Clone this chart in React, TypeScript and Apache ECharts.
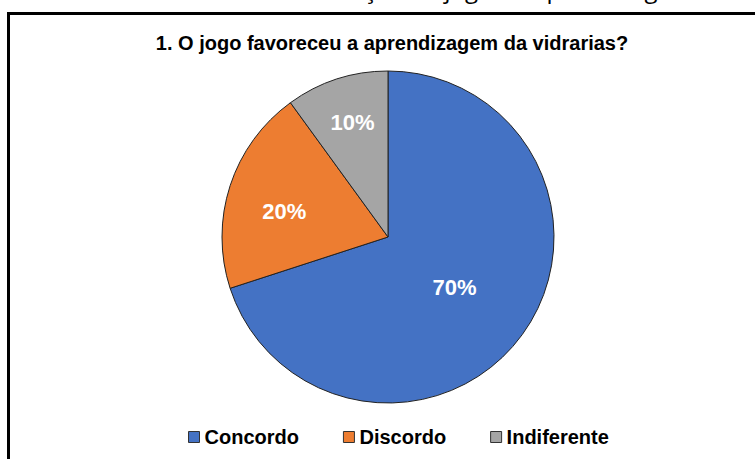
import React, { useEffect, useRef } from "react";
import * as echarts from "echarts";

const categories = ["Concordo", "Discordo", "Indiferente"];
const values = [70, 20, 10];
const colors = ["#4472C4", "#ED7D31", "#A5A5A5"];
const titleText = "1. O jogo favoreceu a aprendizagem da vidrarias?";
const captionText = "Gráfico 1 - Avaliação do jogo na aprendizagem";

export default function App() {
  const ref = useRef<HTMLDivElement>(null);
  useEffect(() => {
    document.body.style.margin = "0";
    if (!ref.current) return;
    const chart = echarts.init(ref.current, null, { renderer: "svg" });
    const labelOffsets: number[][] = [[-3, 0], [-22, 1], [-9, -33]];
    chart.setOption({
      animation: false,
      backgroundColor: "#ffffff",
      title: {
        text: titleText,
        left: 387,
        textAlign: "center",
        top: 28,
        textStyle: {
          fontFamily: "Liberation Sans",
          fontWeight: "bold",
          fontSize: 20,
          color: "#000",
        },
      },
      legend: {
        data: categories,
        top: 427,
        left: 188,
        padding: 0,
        icon: "rect",
        itemWidth: 11,
        itemHeight: 11,
        itemGap: 44,
        textStyle: {
          fontFamily: "Liberation Sans",
          fontWeight: "bold",
          fontSize: 20,
          color: "#000",
        },
        itemStyle: { borderColor: "#333", borderWidth: 1 },
      },
      graphic: [
        {
          type: "rect",
          shape: { x: 8.5, y: 13.5, width: 800, height: 500 },
          style: { fill: "none", stroke: "#000", lineWidth: 3 },
          silent: true,
        },
        {
          type: "text",
          x: 177,
          y: 0,
          style: {
            text: captionText,
            fontFamily: "Open Sans",
            fontSize: 24,
            fill: "#000",
            verticalAlign: "bottom",
          },
          silent: true,
        },
      ],
      series: [
        {
          type: "pie",
          center: [388, 237],
          radius: 166,
          startAngle: 90,
          clockwise: true,
          label: {
            show: true,
            position: "inside",
            formatter: "{c}%",
            color: "#fff",
            fontFamily: "Liberation Sans",
            fontWeight: "bold",
            fontSize: 22,
          },
          labelLine: { show: false },
          itemStyle: { borderColor: "#222", borderWidth: 1 },
          emphasis: { disabled: true },
          data: categories.map((name, i) => ({
            name,
            value: values[i],
            itemStyle: { color: colors[i] },
            label: { offset: labelOffsets[i] },
          })),
        },
      ],
    });
    return () => chart.dispose();
  }, []);
  return <div ref={ref} style={{ width: 755, height: 459 }} />;
}
